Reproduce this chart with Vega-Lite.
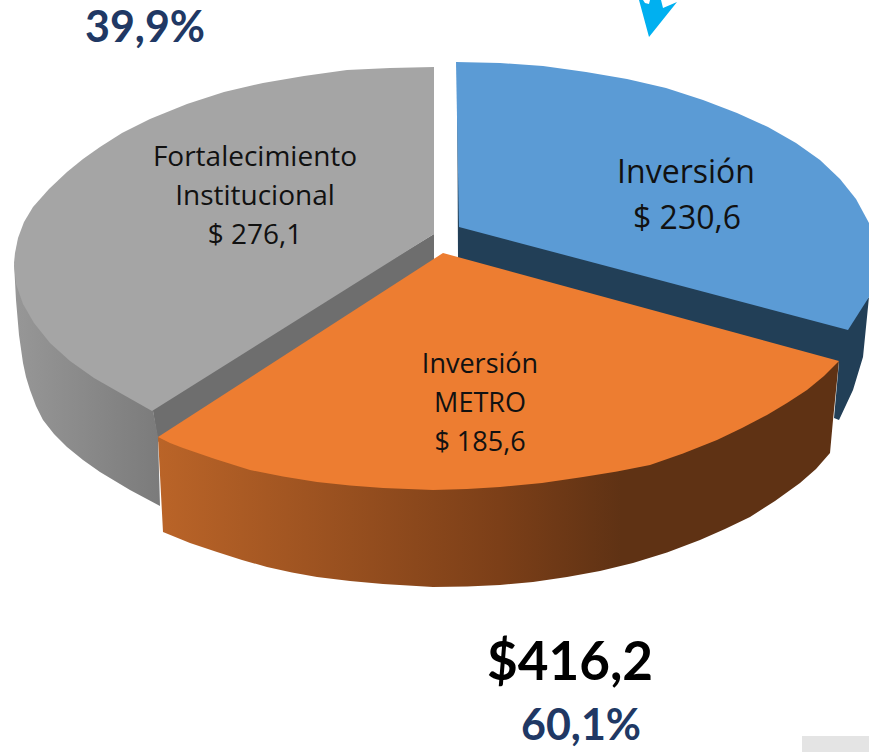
{
"$schema":"https://vega.github.io/schema/vega-lite/v6.json",
"width":869,"height":752,"autosize":{"type":"fit","contains":"padding"},"padding":0,
"background":"white","view":{"stroke":null},
"datasets":{
"outline":[
{"part":"grayWall","n":1,"x":434,"y":234},{"part":"grayWall","n":2,"x":434,"y":262},{"part":"grayWall","n":3,"x":158,"y":442},{"part":"grayWall","n":4,"x":152,"y":405},
{"part":"graySide","n":1,"x":14,"y":263},{"part":"graySide","n":2,"x":16,"y":300},{"part":"graySide","n":3,"x":19,"y":335},{"part":"graySide","n":4,"x":23,"y":363},{"part":"graySide","n":5,"x":26,"y":377},{"part":"graySide","n":6,"x":30,"y":390},{"part":"graySide","n":7,"x":36,"y":406},{"part":"graySide","n":8,"x":43,"y":420},{"part":"graySide","n":9,"x":54,"y":434},{"part":"graySide","n":10,"x":67,"y":447},{"part":"graySide","n":11,"x":83,"y":460},{"part":"graySide","n":12,"x":100,"y":472},{"part":"graySide","n":13,"x":130,"y":490},{"part":"graySide","n":14,"x":160,"y":506},{"part":"graySide","n":15,"x":158,"y":437},{"part":"graySide","n":16,"x":152,"y":405},{"part":"graySide","n":17,"x":122,"y":380},{"part":"graySide","n":18,"x":70,"y":345},{"part":"graySide","n":19,"x":30,"y":300},
{"part":"grayTop","n":1,"x":434,"y":67},{"part":"grayTop","n":2,"x":434,"y":234},{"part":"grayTop","n":3,"x":152,"y":411},{"part":"grayTop","n":4,"x":122,"y":394},{"part":"grayTop","n":5,"x":94,"y":378},{"part":"grayTop","n":6,"x":70,"y":361},{"part":"grayTop","n":7,"x":50,"y":343},{"part":"grayTop","n":8,"x":34,"y":323},{"part":"grayTop","n":9,"x":23,"y":304},{"part":"grayTop","n":10,"x":16,"y":284},{"part":"grayTop","n":11,"x":14,"y":263},{"part":"grayTop","n":12,"x":15,"y":253},{"part":"grayTop","n":13,"x":18,"y":238},{"part":"grayTop","n":14,"x":24,"y":222},{"part":"grayTop","n":15,"x":33,"y":207},{"part":"grayTop","n":16,"x":49,"y":189},{"part":"grayTop","n":17,"x":67,"y":172},{"part":"grayTop","n":18,"x":83,"y":159},{"part":"grayTop","n":19,"x":100,"y":147},{"part":"grayTop","n":20,"x":122,"y":133},{"part":"grayTop","n":21,"x":150,"y":119},{"part":"grayTop","n":22,"x":187,"y":104},{"part":"grayTop","n":23,"x":224,"y":92},{"part":"grayTop","n":24,"x":263,"y":83},{"part":"grayTop","n":25,"x":304,"y":76},{"part":"grayTop","n":26,"x":347,"y":70},{"part":"grayTop","n":27,"x":390,"y":68},
{"part":"blueWall","n":1,"x":457,"y":62},{"part":"blueWall","n":2,"x":458,"y":258},{"part":"blueWall","n":3,"x":839,"y":362},{"part":"blueWall","n":4,"x":834,"y":418},{"part":"blueWall","n":5,"x":839,"y":420},{"part":"blueWall","n":6,"x":853,"y":390},{"part":"blueWall","n":7,"x":863,"y":357},{"part":"blueWall","n":8,"x":869,"y":297},{"part":"blueWall","n":9,"x":848,"y":320},
{"part":"blueTop","n":1,"x":456,"y":62},{"part":"blueTop","n":2,"x":500,"y":63},{"part":"blueTop","n":3,"x":543,"y":66},{"part":"blueTop","n":4,"x":586,"y":72},{"part":"blueTop","n":5,"x":627,"y":79},{"part":"blueTop","n":6,"x":666,"y":88},{"part":"blueTop","n":7,"x":703,"y":100},{"part":"blueTop","n":8,"x":737,"y":113},{"part":"blueTop","n":9,"x":768,"y":127},{"part":"blueTop","n":10,"x":796,"y":143},{"part":"blueTop","n":11,"x":820,"y":160},{"part":"blueTop","n":12,"x":840,"y":179},{"part":"blueTop","n":13,"x":856,"y":199},{"part":"blueTop","n":14,"x":869,"y":223},{"part":"blueTop","n":15,"x":869,"y":297},{"part":"blueTop","n":16,"x":848,"y":330},{"part":"blueTop","n":17,"x":459,"y":227},
{"part":"orangeSide","n":1,"x":158,"y":437},{"part":"orangeSide","n":2,"x":163,"y":532},{"part":"orangeSide","n":3,"x":190,"y":543},{"part":"orangeSide","n":4,"x":217,"y":552},{"part":"orangeSide","n":5,"x":242,"y":560},{"part":"orangeSide","n":6,"x":267,"y":567},{"part":"orangeSide","n":7,"x":292,"y":572.5},{"part":"orangeSide","n":8,"x":317,"y":577},{"part":"orangeSide","n":9,"x":350,"y":581},{"part":"orangeSide","n":10,"x":383,"y":584},{"part":"orangeSide","n":11,"x":433,"y":587},{"part":"orangeSide","n":12,"x":467,"y":586.5},{"part":"orangeSide","n":13,"x":500,"y":585},{"part":"orangeSide","n":14,"x":533,"y":582},{"part":"orangeSide","n":15,"x":567,"y":577},{"part":"orangeSide","n":16,"x":600,"y":571},{"part":"orangeSide","n":17,"x":633,"y":563},{"part":"orangeSide","n":18,"x":667,"y":552.5},{"part":"orangeSide","n":19,"x":700,"y":540},{"part":"orangeSide","n":20,"x":725,"y":529},{"part":"orangeSide","n":21,"x":750,"y":517},{"part":"orangeSide","n":22,"x":775,"y":501},{"part":"orangeSide","n":23,"x":800,"y":483},{"part":"orangeSide","n":24,"x":816,"y":469},{"part":"orangeSide","n":25,"x":830,"y":453},{"part":"orangeSide","n":26,"x":833,"y":420},{"part":"orangeSide","n":27,"x":839,"y":361},{"part":"orangeSide","n":28,"x":717,"y":430},{"part":"orangeSide","n":29,"x":433,"y":480},
{"part":"orangeTop","n":1,"x":443,"y":253},{"part":"orangeTop","n":2,"x":839,"y":361},{"part":"orangeTop","n":3,"x":824,"y":376},{"part":"orangeTop","n":4,"x":807,"y":390},{"part":"orangeTop","n":5,"x":787,"y":403},{"part":"orangeTop","n":6,"x":767,"y":415},{"part":"orangeTop","n":7,"x":742,"y":428},{"part":"orangeTop","n":8,"x":717,"y":440},{"part":"orangeTop","n":9,"x":683,"y":453.5},{"part":"orangeTop","n":10,"x":650,"y":465},{"part":"orangeTop","n":11,"x":617,"y":471.5},{"part":"orangeTop","n":12,"x":583,"y":477},{"part":"orangeTop","n":13,"x":542,"y":483},{"part":"orangeTop","n":14,"x":500,"y":487},{"part":"orangeTop","n":15,"x":467,"y":489},{"part":"orangeTop","n":16,"x":433,"y":490},{"part":"orangeTop","n":17,"x":383,"y":488},{"part":"orangeTop","n":18,"x":350,"y":485.5},{"part":"orangeTop","n":19,"x":317,"y":482},{"part":"orangeTop","n":20,"x":283,"y":476.5},{"part":"orangeTop","n":21,"x":250,"y":470},{"part":"orangeTop","n":22,"x":215,"y":459},{"part":"orangeTop","n":23,"x":183,"y":448},{"part":"orangeTop","n":24,"x":170,"y":443},{"part":"orangeTop","n":25,"x":158,"y":437},
{"part":"arrow","n":1,"x":639,"y":0},{"part":"arrow","n":2,"x":649,"y":37},{"part":"arrow","n":3,"x":677,"y":2},{"part":"arrow","n":4,"x":663,"y":8},{"part":"arrow","n":5,"x":661,"y":0},{"part":"arrow","n":6,"x":650,"y":0},{"part":"arrow","n":7,"x":649,"y":4},{"part":"arrow","n":8,"x":645,"y":3},{"part":"arrow","n":9,"x":643,"y":0}
]},
"layer":[
{"data":{"name":"outline"},"transform":[{"filter":"datum.part==='grayWall'"}],"mark":{"type":"line","fill":"#6e6e6e","strokeWidth":0},"encoding":{"x":{"field":"x","type":"quantitative","scale":{"domain":[0,869],"nice":false,"zero":false},"axis":null},"y":{"field":"y","type":"quantitative","scale":{"domain":[0,752],"reverse":true,"nice":false,"zero":false},"axis":null},"order":{"field":"n"}}},
{"data":{"name":"outline"},"transform":[{"filter":"datum.part==='graySide'"}],"mark":{"type":"line","strokeWidth":0,"fill":{"gradient":"linear","x1":0,"x2":1,"y1":0,"y2":0,"stops":[{"offset":0,"color":"#979797"},{"offset":1,"color":"#7b7b7b"}]}},"encoding":{"x":{"field":"x","type":"quantitative","axis":null},"y":{"field":"y","type":"quantitative","axis":null},"order":{"field":"n"}}},
{"data":{"name":"outline"},"transform":[{"filter":"datum.part==='grayTop'"}],"mark":{"type":"line","fill":"#a5a5a5","strokeWidth":0},"encoding":{"x":{"field":"x","type":"quantitative","axis":null},"y":{"field":"y","type":"quantitative","axis":null},"order":{"field":"n"}}},
{"data":{"name":"outline"},"transform":[{"filter":"datum.part==='blueWall'"}],"mark":{"type":"line","fill":"#223f57","strokeWidth":0},"encoding":{"x":{"field":"x","type":"quantitative","axis":null},"y":{"field":"y","type":"quantitative","axis":null},"order":{"field":"n"}}},
{"data":{"name":"outline"},"transform":[{"filter":"datum.part==='blueTop'"}],"mark":{"type":"line","fill":"#5b9bd5","strokeWidth":0},"encoding":{"x":{"field":"x","type":"quantitative","axis":null},"y":{"field":"y","type":"quantitative","axis":null},"order":{"field":"n"}}},
{"data":{"name":"outline"},"transform":[{"filter":"datum.part==='orangeSide'"}],"mark":{"type":"line","strokeWidth":0,"fill":{"gradient":"linear","x1":0,"x2":1,"y1":0,"y2":0,"stops":[{"offset":0,"color":"#ba6428"},{"offset":0.5,"color":"#7c3f18"},{"offset":0.68,"color":"#5f3214"},{"offset":1,"color":"#5f3214"}]}},"encoding":{"x":{"field":"x","type":"quantitative","axis":null},"y":{"field":"y","type":"quantitative","axis":null},"order":{"field":"n"}}},
{"data":{"name":"outline"},"transform":[{"filter":"datum.part==='orangeTop'"}],"mark":{"type":"line","fill":"#ed7d31","strokeWidth":0},"encoding":{"x":{"field":"x","type":"quantitative","axis":null},"y":{"field":"y","type":"quantitative","axis":null},"order":{"field":"n"}}},
{"data":{"name":"outline"},"transform":[{"filter":"datum.part==='arrow'"}],"mark":{"type":"line","fill":"#00b0f0","strokeWidth":0},"encoding":{"x":{"field":"x","type":"quantitative","axis":null},"y":{"field":"y","type":"quantitative","axis":null},"order":{"field":"n"}}},
{"data":{"values":[{"x":802,"x2":869,"y":736,"y2":752}]},"mark":{"type":"rect","fill":"#e4e4e4"},"encoding":{"x":{"field":"x","type":"quantitative","axis":null},"x2":{"field":"x2"},"y":{"field":"y","type":"quantitative","axis":null},"y2":{"field":"y2"}}},
{"data":{"values":[{"t":"Fortalecimiento","x":255,"y":158},{"t":"Institucional","x":255,"y":197},{"t":"$ 276,1","x":255,"y":236}]},"mark":{"type":"text","font":"Open Sans","fontSize":28,"color":"#111111","align":"center","baseline":"middle"},"encoding":{"x":{"field":"x","type":"quantitative","axis":null},"y":{"field":"y","type":"quantitative","axis":null},"text":{"field":"t"}}},
{"data":{"values":[{"t":"Inversión","x":686,"y":173},{"t":"$ 230,6","x":687,"y":219}]},"mark":{"type":"text","font":"Open Sans","fontSize":32,"color":"#111111","align":"center","baseline":"middle"},"encoding":{"x":{"field":"x","type":"quantitative","axis":null},"y":{"field":"y","type":"quantitative","axis":null},"text":{"field":"t"}}},
{"data":{"values":[{"t":"Inversión","x":480,"y":365},{"t":"METRO","x":480,"y":404},{"t":"$ 185,6","x":480,"y":443}]},"mark":{"type":"text","font":"Open Sans","fontSize":27,"color":"#111111","align":"center","baseline":"middle"},"encoding":{"x":{"field":"x","type":"quantitative","axis":null},"y":{"field":"y","type":"quantitative","axis":null},"text":{"field":"t"}}},
{"data":{"values":[{"t":"39,9%","x":145,"y":29},{"t":"60,1%","x":581,"y":727}]},"mark":{"type":"text","font":"Lato","fontWeight":"bold","fontSize":43,"color":"#203864","align":"center","baseline":"middle"},"encoding":{"x":{"field":"x","type":"quantitative","axis":null},"y":{"field":"y","type":"quantitative","axis":null},"text":{"field":"t"}}},
{"data":{"values":[{"t":"$416,2","x":570,"y":664}]},"mark":{"type":"text","font":"Lato","fontWeight":"bold","fontSize":53,"color":"#000000","align":"center","baseline":"middle"},"encoding":{"x":{"field":"x","type":"quantitative","axis":null},"y":{"field":"y","type":"quantitative","axis":null},"text":{"field":"t"}}}
],
"resolve":{"scale":{"x":"shared","y":"shared"}}
}
